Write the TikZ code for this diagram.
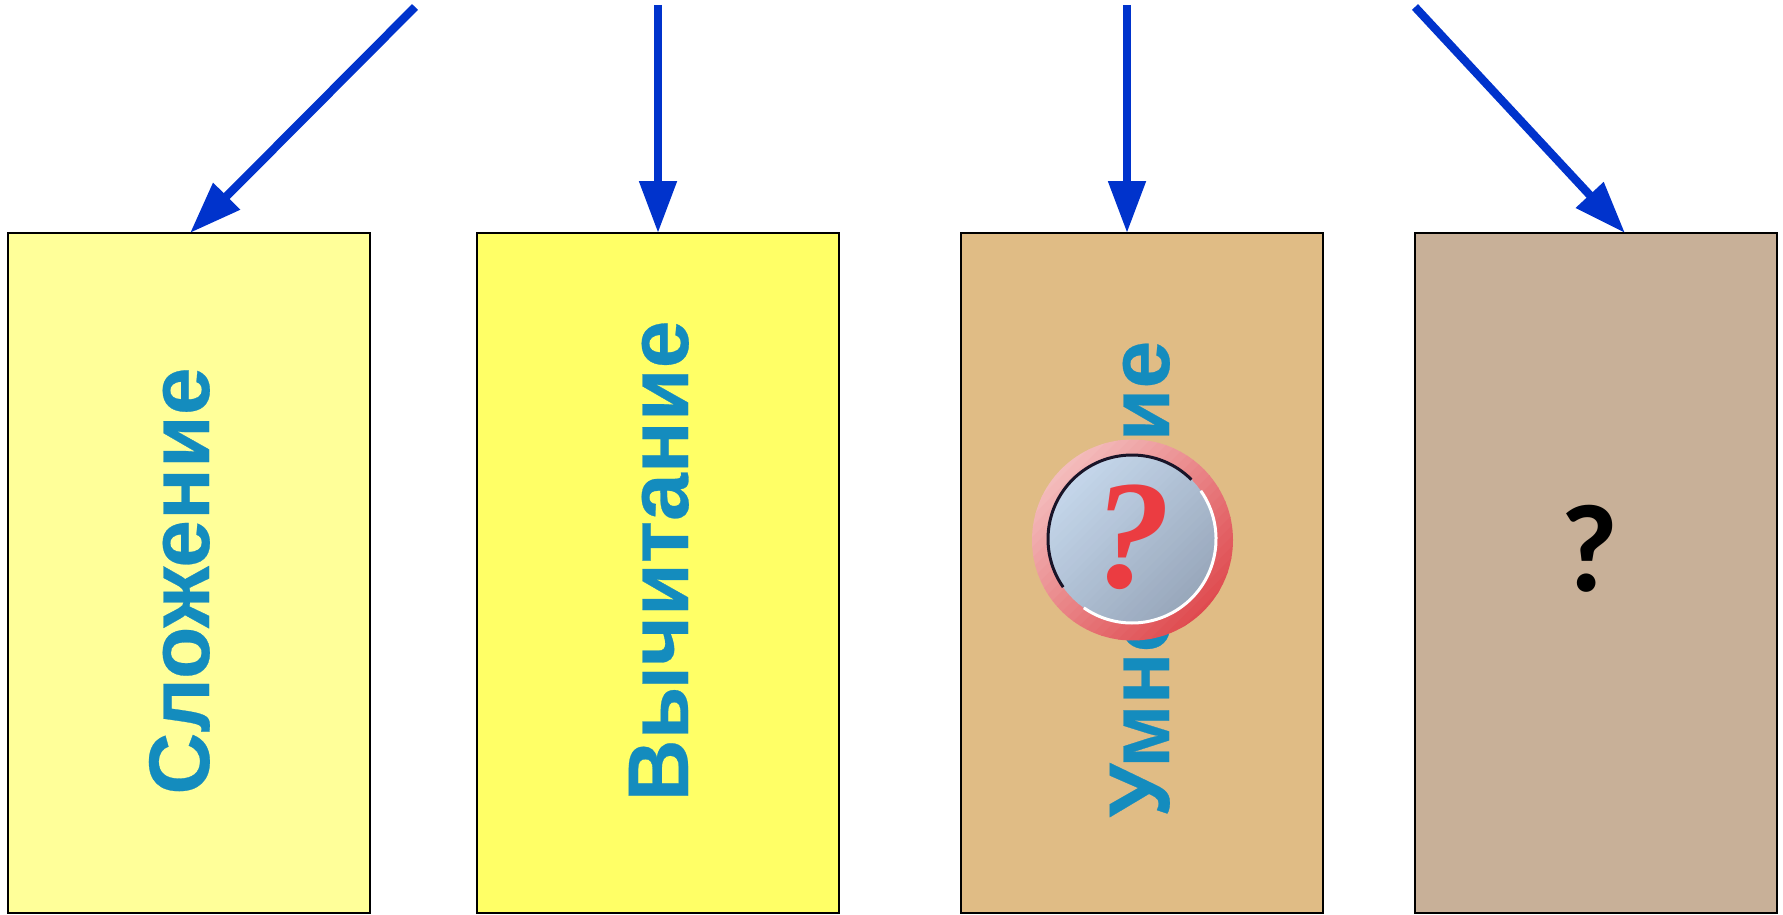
\documentclass[tikz,border=0pt]{standalone}
\usepackage{fontspec}
\setmainfont{Liberation Sans}
\newfontfamily\qserif{Liberation Serif}
\newfontfamily\qcal{Carlito}
\newfontfamily\lab[FakeBold=0.3]{Liberation Sans Bold}
\usetikzlibrary{arrows.meta}
\definecolor{arrowblue}{RGB}{0,51,204}
\definecolor{labelblue}{RGB}{20,140,190}
\definecolor{boxa}{RGB}{255,255,153}
\definecolor{boxb}{RGB}{255,255,102}
\definecolor{boxc}{RGB}{224,188,133}
\definecolor{boxd}{RGB}{200,176,152}
\definecolor{ringa}{RGB}{244,192,192}
\definecolor{ringb}{RGB}{222,70,75}
\definecolor{diska}{RGB}{198,216,236}
\definecolor{diskb}{RGB}{150,165,185}
\tikzset{
  card/.style={draw=black,line width=2pt,minimum width=362pt,minimum height=680pt,inner sep=0pt,anchor=north west},
  cardlabel/.style={rotate=90,anchor=base,text=labelblue,inner sep=0pt,font=\lab\fontsize{86}{86}\selectfont},
  link/.style={draw=arrowblue,line width=8.3pt,-{Triangle[length=52pt,width=36pt,fill=arrowblue]}}
}
\begin{document}
\begin{tikzpicture}[x=1pt,y=-1pt]
\useasboundingbox (0,0) rectangle (1783,915);
\node[card,fill=boxa] (b1) at (7.3,232) {};
\node[card,fill=boxb] (b2) at (476,232) {};
\node[card,fill=boxc] (b3) at (960.3,232) {};
\node[card,fill=boxd] (b4) at (1413.5,232) {};
\node[cardlabel] (t1) at (209,581) {Сложение};
\node[cardlabel] (t2) at (688,561) {Вычитание};
\node[cardlabel] (t3) at (1169,579) {Умножение};
\node[inner sep=0pt,font=\qcal\bfseries\fontsize{125}{125}\selectfont] (q4) at (1589,549) {?};
\coordinate (s1) at (415,7);
\coordinate (s2) at (658,5);
\coordinate (s3) at (1127,5);
\coordinate (s4) at (1415,7);
\coordinate (e1) at (190,233);
\coordinate (e2) at (658,233);
\coordinate (e3) at (1127,233);
\coordinate (e4) at (1625,233);
\draw[link] (s1) -- (e1);
\draw[link] (s2) -- (e2);
\draw[link] (s3) -- (e3);
\draw[link] (s4) -- (e4);
% question badge: gradients as stepped strips
\begin{scope}
\clip (1132.5,540) circle (100.5);
\foreach \i in {0,...,29}{
  \pgfmathsetmacro{\pc}{100-\i*100/29}
  \colorlet{stripc}{ringa!\pc!ringb}
  \fill[stripc,rotate around={45:(1132.5,540)}] (1022,{430+\i*7.4}) rectangle (1243,{430+\i*7.4+8.2});
}
\end{scope}
\begin{scope}
\clip (1132,539) circle (84);
\foreach \i in {0,...,29}{
  \pgfmathsetmacro{\pc}{100-\i*100/29}
  \colorlet{stripc}{diska!\pc!diskb}
  \fill[stripc,rotate around={45:(1132,539)}] (1040,{447+\i*6.2}) rectangle (1224,{447+\i*6.2+7});
}
\end{scope}
\draw[line width=3pt,color={rgb,255:red,25;green,20;blue,40}] (1132,539) ++(-45:84) arc (-45:-215:84);
\draw[line width=3pt,white] (1132,539) ++(-35:84) arc (-35:125:84);
\node[inner sep=0pt,text={rgb,255:red,235;green,60;blue,65},font=\qserif\bfseries\itshape\fontsize{155}{155}\selectfont] (q3) at (1132,537) {?};
\end{tikzpicture}
\end{document}
